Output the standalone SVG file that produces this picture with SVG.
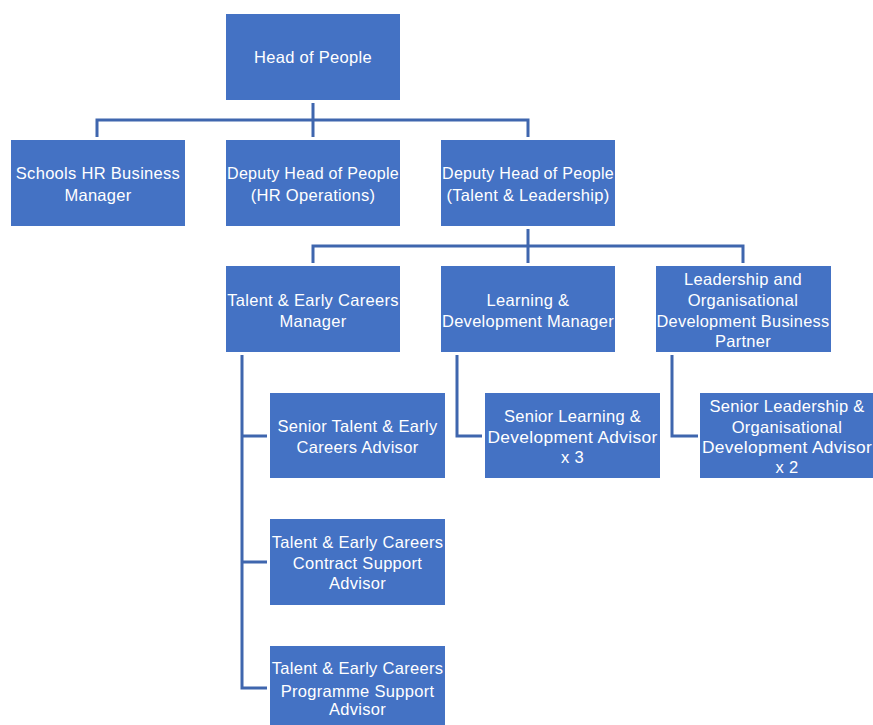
<svg xmlns="http://www.w3.org/2000/svg" width="873" height="725" viewBox="0 0 873 725">
<style>
.box{fill:#4472C4}
.t{font-family:"Liberation Sans",Arial,sans-serif;font-size:16.5px;letter-spacing:0.3px;fill:#ffffff;text-anchor:middle}
.c{fill:none;stroke:#3F66AE;stroke-width:3}
</style>
<rect width="873" height="725" fill="#ffffff"/>
<g id="connectors">
<path class="c" d="M313 103V137M97 137V120H528V137"/>
<path class="c" d="M528 229V263M313 263V246H743V263"/>
<path class="c" d="M242 355V688H267M242 436H267M242 562H267"/>
<path class="c" d="M457 355V436H482"/>
<path class="c" d="M672 355V436H698"/>
</g>
<g id="head">
<rect class="box" x="226" y="14" width="174" height="86"/>
<text class="t" x="313" y="63">Head of People</text>
</g>
<g id="schools-hr">
<rect class="box" x="11" y="140" width="174" height="86"/>
<text class="t" x="98" y="179">Schools HR Business</text>
<text class="t" x="98" y="201">Manager</text>
</g>
<g id="deputy-hr">
<rect class="box" x="226" y="140" width="174" height="86"/>
<text class="t" x="313" y="179" textLength="172" lengthAdjust="spacingAndGlyphs">Deputy Head of People</text>
<text class="t" x="313" y="201">(HR Operations)</text>
</g>
<g id="deputy-tl">
<rect class="box" x="441" y="140" width="174" height="86"/>
<text class="t" x="528" y="179" textLength="172" lengthAdjust="spacingAndGlyphs">Deputy Head of People</text>
<text class="t" x="528" y="201">(Talent &amp; Leadership)</text>
</g>
<g id="talent-manager">
<rect class="box" x="226" y="266" width="174" height="86"/>
<text class="t" x="313" y="306">Talent &amp; Early Careers</text>
<text class="t" x="313" y="327">Manager</text>
</g>
<g id="ld-manager">
<rect class="box" x="441" y="266" width="174" height="86"/>
<text class="t" x="528" y="306">Learning &amp;</text>
<text class="t" x="528" y="327" textLength="172" lengthAdjust="spacingAndGlyphs">Development Manager</text>
</g>
<g id="leadership-bp">
<rect class="box" x="656" y="266" width="175" height="86"/>
<text class="t" x="743" y="285">Leadership and</text>
<text class="t" x="743" y="306">Organisational</text>
<text class="t" x="743" y="327" textLength="173" lengthAdjust="spacingAndGlyphs">Development Business</text>
<text class="t" x="743" y="347">Partner</text>
</g>
<g id="senior-talent">
<rect class="box" x="270" y="393" width="175" height="85"/>
<text class="t" x="357.5" y="432">Senior Talent &amp; Early</text>
<text class="t" x="357.5" y="453">Careers Advisor</text>
</g>
<g id="senior-ld">
<rect class="box" x="485" y="393" width="175" height="85"/>
<text class="t" x="572.5" y="422">Senior Learning &amp;</text>
<text class="t" x="572.5" y="443" textLength="170" lengthAdjust="spacingAndGlyphs">Development Advisor</text>
<text class="t" x="572.5" y="463">x 3</text>
</g>
<g id="senior-leadership">
<rect class="box" x="700" y="393" width="175" height="85"/>
<text class="t" x="787" y="412">Senior Leadership &amp;</text>
<text class="t" x="787" y="433">Organisational</text>
<text class="t" x="787" y="453" textLength="170" lengthAdjust="spacingAndGlyphs">Development Advisor</text>
<text class="t" x="787" y="473">x 2</text>
</g>
<g id="contract-support">
<rect class="box" x="270" y="519" width="175" height="86"/>
<text class="t" x="357.5" y="548">Talent &amp; Early Careers</text>
<text class="t" x="357.5" y="569">Contract Support</text>
<text class="t" x="357.5" y="589">Advisor</text>
</g>
<g id="programme-support">
<rect class="box" x="270" y="646" width="175" height="86"/>
<text class="t" x="357.5" y="674">Talent &amp; Early Careers</text>
<text class="t" x="357.5" y="697">Programme Support</text>
<text class="t" x="357.5" y="715">Advisor</text>
</g>
</svg>
